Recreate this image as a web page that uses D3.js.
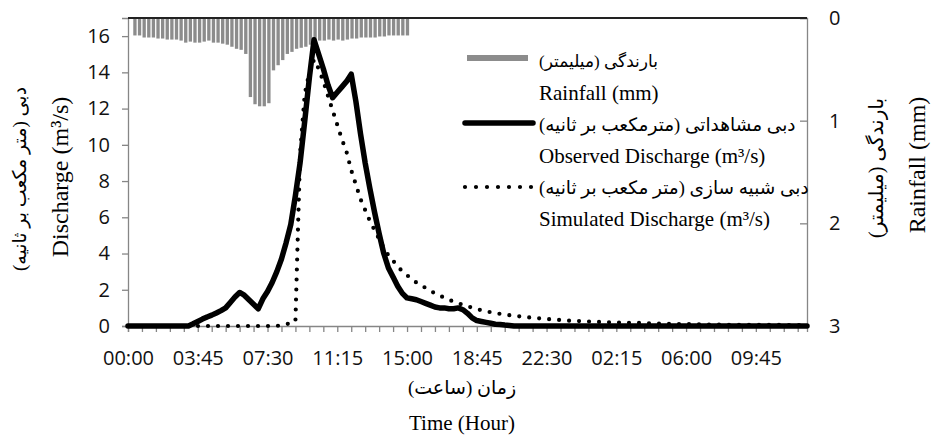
<!DOCTYPE html>
<html><head><meta charset="utf-8">
<script src="https://cdn.jsdelivr.net/npm/d3@7"></script>
<style>body{margin:0;background:#fff}</style>
</head><body><svg id="c" width="931" height="443"></svg>
<script>
// categories: 15-minute steps from 00:00 (147 points)
const categories = d3.range(147).map(i => {
  const m = (i * 15) % 1440;
  return String(Math.floor(m / 60)).padStart(2, "0") + ":" + String(m % 60).padStart(2, "0");
});
const xTickLabels = ["00:00","03:45","07:30","11:15","15:00","18:45","22:30","02:15","06:00","09:45"];
const leftTicks = [0,2,4,6,8,10,12,14,16];
const rightTicks = [0,1,2,3];

// rainfall (mm) per 15 min
const rainfall = [0,0.17,0.17,0.19,0.19,0.19,0.20,0.20,0.21,0.21,
  0.21,0.22,0.24,0.23,0.24,0.24,0.23,0.22,0.24,0.24,
  0.25,0.26,0.28,0.30,0.31,0.35,0.77,0.84,0.86,0.86,
  0.83,0.51,0.46,0.41,0.35,0.33,0.30,0.29,0.28,0.26,
  0.24,0.22,0.22,0.21,0.22,0.21,0.22,0.21,0.20,0.20,
  0.19,0.19,0.19,0.19,0.18,0.18,0.17,0.17,0.17,0.17,0.17];

// observed discharge (m3/s)
const observed = [0,0,0,0,0,0,0,0,0,0,
  0,0,0,0,0.12,0.25,0.38,0.5,0.6,0.72,
  0.85,1.0,1.3,1.6,1.85,1.7,1.45,1.2,0.95,1.5,
  1.9,2.4,3.0,3.7,4.6,5.6,7.2,9.0,11.3,13.7,
  15.8,15.0,14.2,13.3,12.6,12.9,13.2,13.5,13.9,12.4,
  10.6,9.0,7.6,6.3,5.1,4.0,3.2,2.7,2.2,1.8,
  1.55,1.5,1.45,1.35,1.25,1.15,1.05,1.0,1.0,0.95,
  0.95,1.0,0.9,0.7,0.45,0.3,0.25,0.2,0.15,0.1,
  0.08,0.05,0.03,0,0,0,0,0,0,0,
  0,0,0,0,0,0,0,0,0,0,
  0,0,0,0,0,0,0,0,0,0,
  0,0,0,0,0,0,0,0,0,0,
  0,0,0,0,0,0,0,0,0,0,
  0,0,0,0,0,0,0,0,0,0,
  0,0,0,0,0,0,0];

// simulated discharge (m3/s)
const simulated = [0,0,0,0,0,0,0,0,0,0,
  0,0,0,0,0,0,0,0,0,0,
  0,0,0,0,0,0,0,0,0,0,
  0,0,0,0.05,0.1,0.15,0.25,9.5,12.8,14.0,
  14.7,14.2,13.5,12.7,11.9,11.1,10.3,9.6,8.6,7.8,
  7.0,6.4,5.8,5.3,4.8,4.3,3.9,3.6,3.3,3.0,
  2.8,2.6,2.4,2.25,2.1,1.95,1.8,1.68,1.56,1.45,
  1.35,1.26,1.17,1.09,1.01,0.94,0.87,0.81,0.76,0.71,
  0.67,0.63,0.6,0.57,0.54,0.51,0.48,0.45,0.43,0.41,
  0.39,0.37,0.35,0.33,0.31,0.29,0.28,0.27,0.26,0.25,
  0.24,0.23,0.22,0.21,0.2,0.19,0.19,0.18,0.18,0.17,
  0.17,0.16,0.15,0.14,0.13,0.12,0.12,0.11,0.11,0.1,
  0.1,0.1,0.09,0.09,0.09,0.08,0.08,0.08,0.08,0.07,
  0.07,0.07,0.07,0.07,0.07,0.06,0.06,0.06,0.06,0.06,
  0.06,0.05,0.05,0.05,0.05,0.05,0.05];

const rtl = s => "\u200F" + s + "\u200F";
const svg = d3.select("#c");
svg.append("rect").attr("width",931).attr("height",443).attr("fill","#fff");

const L = 128, R = 807, T = 18, B = 326;
const idx = d3.range(categories.length);
const x = d3.scalePoint().domain(idx).range([L, R]);
const xb = d3.scaleBand().domain(idx).range([L, R]).paddingInner(0.28).paddingOuter(0.14);
const yL = d3.scaleLinear().domain([0, 17]).range([B, T]);
const yR = d3.scaleLinear().domain([0, 3]).range([T, B]);

// rainfall bars
svg.append("g").selectAll("rect").data(rainfall.map((v,i)=>({v,i})).filter(d=>d.v>0))
  .join("rect")
  .attr("x", d => xb(d.i)).attr("width", xb.bandwidth())
  .attr("y", yR(0)).attr("height", d => yR(d.v) - yR(0))
  .attr("fill", "#8c8c8c");

const gray = "#868686";
const tickFont = "'Open Sans', sans-serif";

// left axis
const ax = svg.append("g").attr("transform", `translate(${L},0)`)
  .call(d3.axisLeft(yL).tickValues(leftTicks).tickSize(6).tickPadding(12).tickFormat(d3.format("d")));
// right axis
const ar = svg.append("g").attr("transform", `translate(${R},0)`)
  .call(d3.axisRight(yR).tickValues(rightTicks).tickSize(-7).tickPadding(22).tickFormat(d3.format("d")));
// bottom axis
const labelMap = {};
xTickLabels.forEach((t,k)=>{ labelMap[k*15] = t; });
const ab = svg.append("g").attr("transform", `translate(0,${B})`)
  .call(d3.axisBottom(x).tickValues(d3.range(0, categories.length, 3)).tickSize(6).tickPadding(19)
    .tickFormat(i => labelMap[i] || ""));
[ax, ar, ab].forEach(g => {
  g.select(".domain").attr("stroke", gray).attr("stroke-width", 1.3);
  g.selectAll(".tick line").attr("stroke", gray).attr("stroke-width", 1.3);
  g.selectAll(".tick text").attr("font-family", tickFont).attr("font-size", 20).attr("fill", "#111");
});
// top axis line
svg.append("line").attr("x1", L).attr("x2", R).attr("y1", T).attr("y2", T)
  .attr("stroke", "#222").attr("stroke-width", 2);

// lines
const line = d3.line().x((d,i)=>x(i)).y(d=>yL(d));
svg.append("path").datum(simulated).attr("d", line)
  .attr("fill","none").attr("stroke","#000").attr("stroke-width",4.2)
  .attr("stroke-linecap","round").attr("stroke-dasharray","0 10");
svg.append("path").datum(observed).attr("d", line)
  .attr("fill","none").attr("stroke","#000").attr("stroke-width",5.5)
  .attr("stroke-linejoin","round").attr("stroke-linecap","round");

// legend
const serif = "'Liberation Serif', 'Times New Roman', 'DejaVu Sans', serif";
const lg = svg.append("g");
lg.append("rect").attr("x",467).attr("y",55).attr("width",61).attr("height",6).attr("fill","#8c8c8c");
lg.append("line").attr("x1",465).attr("x2",533).attr("y1",123).attr("y2",123)
  .attr("stroke","#000").attr("stroke-width",5.5).attr("stroke-linecap","round");
lg.append("line").attr("x1",465).attr("x2",533).attr("y1",187).attr("y2",187)
  .attr("stroke","#000").attr("stroke-width",4.2).attr("stroke-linecap","round").attr("stroke-dasharray","0 11");
const legendText = [
  {t: rtl("بارندگی (میلیمتر)"), y: 67, s: 17},
  {t: "Rainfall (mm)", y: 100, s: 21},
  {t: rtl("دبی مشاهداتی (مترمکعب بر  ثانیه)"), y: 131, s: 18.5},
  {t: "Observed Discharge (m³/s)", y: 163, s: 21},
  {t: rtl("دبی شبیه سازی (متر مکعب بر ثانیه)"), y: 194, s: 18.5},
  {t: "Simulated Discharge (m³/s)", y: 226, s: 21}
];
lg.selectAll("text").data(legendText).join("text")
  .attr("x", 539).attr("y", d=>d.y).text(d=>d.t)
  .attr("font-family", serif).attr("font-size", d=>d.s).attr("fill","#000");

// axis titles
function vtext(xp, yp, t, size) {
  svg.append("text").attr("transform", `translate(${xp},${yp}) rotate(-90)`)
    .attr("text-anchor","middle").attr("font-family", serif).attr("font-size", size)
    .attr("fill","#000").text(t);
}
vtext(26, 179, rtl("دبی (متر مکعب بر ثانیه)"), 19);
vtext(68, 177, "Discharge (m³/s)", 24);
vtext(883, 168, rtl("بارندگی (میلیمتر)"), 20);
vtext(925, 165, "Rainfall (mm)", 24);
svg.append("text").attr("x",462).attr("y",394).attr("text-anchor","middle")
  .attr("font-family", serif).attr("font-size", 19).text(rtl("زمان (ساعت)"));
svg.append("text").attr("x",462).attr("y",430).attr("text-anchor","middle")
  .attr("font-family", serif).attr("font-size", 21).text("Time (Hour)");
</script></body></html>
